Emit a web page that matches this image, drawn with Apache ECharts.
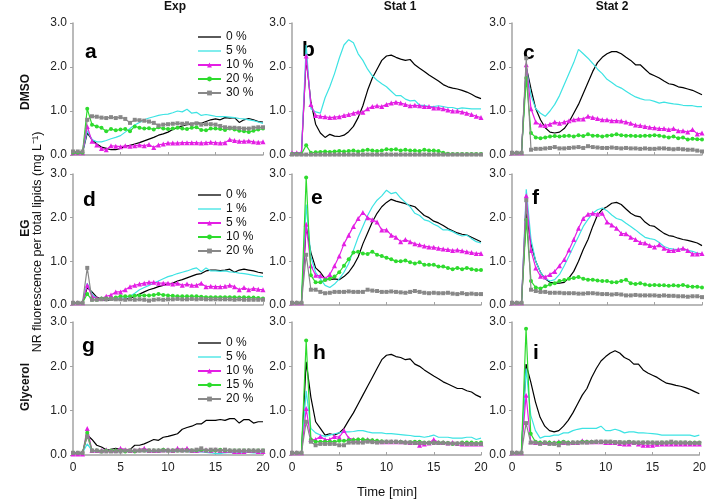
<!DOCTYPE html>
<html><head><meta charset="utf-8">
<script src="https://cdn.jsdelivr.net/npm/echarts@6/dist/echarts.min.js"></script>
<style>html,body{margin:0;padding:0;background:#fff}#c{width:709px;height:502px}</style>
</head><body><div id="c"></div><script>
const times = [0,0.5,1,1.5,2,2.5,3,3.5,4,4.5,5,5.5,6,6.5,7,7.5,8,8.5,9,9.5,10,10.5,11,11.5,12,12.5,13,13.5,14,14.5,15,15.5,16,16.5,17,17.5,18,18.5,19,19.5,20];
const xTicks = [0,5,10,15,20];
const yTicks = ['0.0','1.0','2.0','3.0'];
const colTitles = ['Exp','Stat 1','Stat 2'];
const rowTitles = ['DMSO','EG','Glycerol'];
const yTitle = 'NR fluorescence per total lipids (mg L\u207B\u00B9)';
const xTitle = 'Time [min]';
const dmsoLabels = ['0 %','5 %','10 %','20 %','30 %'];
const egLabels = ['0 %','1 %','5 %','10 %','20 %'];
const glyLabels = ['0 %','5 %','10 %','15 %','20 %'];

// Panel a (DMSO, Exp)
const a0 = [0.05,0.05,0.05,0.5,0.35,0.25,0.18,0.15,0.12,0.12,0.15,0.2,0.22,0.25,0.28,0.32,0.36,0.4,0.45,0.48,0.52,0.58,0.62,0.66,0.69,0.71,0.73,0.72,0.76,0.8,0.82,0.8,0.85,0.84,0.85,0.74,0.8,0.83,0.8,0.76,0.75];
const a5 = [0.05,0.05,0.05,0.55,0.35,0.3,0.3,0.33,0.37,0.4,0.44,0.52,0.6,0.68,0.74,0.8,0.84,0.87,0.9,0.92,0.93,0.96,1.0,0.98,1.04,0.95,0.97,0.9,0.92,0.9,0.88,0.87,0.87,0.86,0.85,0.83,0.82,0.8,0.78,0.75,0.72];
const a10 = [0.05,0.05,0.05,0.65,0.31,0.23,0.15,0.12,0.21,0.2,0.19,0.21,0.2,0.21,0.23,0.21,0.24,0.17,0.23,0.25,0.27,0.27,0.27,0.28,0.28,0.28,0.28,0.27,0.28,0.29,0.28,0.27,0.28,0.35,0.33,0.31,0.31,0.32,0.3,0.29,0.3];
const a20 = [0.05,0.05,0.05,1.05,0.69,0.65,0.62,0.54,0.59,0.56,0.58,0.59,0.54,0.65,0.62,0.6,0.61,0.58,0.63,0.6,0.59,0.6,0.62,0.6,0.59,0.62,0.63,0.57,0.56,0.6,0.6,0.59,0.57,0.6,0.58,0.55,0.54,0.52,0.55,0.58,0.6];
const a30 = [0.08,0.08,0.08,0.8,0.88,0.87,0.85,0.84,0.86,0.84,0.86,0.82,0.73,0.8,0.79,0.78,0.76,0.73,0.67,0.69,0.7,0.71,0.72,0.71,0.72,0.7,0.72,0.69,0.7,0.7,0.69,0.66,0.63,0.62,0.62,0.61,0.6,0.6,0.62,0.63,0.63];
// Panel b (DMSO, Stat 1)
const b0 = [0.05,0.05,0.05,2.2,1.2,0.7,0.5,0.4,0.47,0.43,0.42,0.45,0.53,0.65,0.85,1.12,1.47,1.75,1.95,2.15,2.25,2.27,2.22,2.18,2.15,2.17,2.05,1.97,1.9,1.82,1.75,1.68,1.6,1.55,1.52,1.5,1.47,1.43,1.38,1.32,1.28];
const b5 = [0.05,0.05,0.05,2.5,1.05,0.98,0.95,1.3,1.55,1.85,2.2,2.5,2.62,2.55,2.3,2.15,1.95,1.8,1.7,1.62,1.55,1.45,1.35,1.35,1.27,1.23,1.24,1.13,1.13,1.1,1.1,1.12,1.1,1.08,1.08,1.05,1.07,1.06,1.05,1.05,1.05];
const b10 = [0.05,0.05,0.05,2.25,1.15,0.9,0.88,0.87,0.85,0.86,0.87,0.9,0.92,0.95,0.98,0.97,1.05,1.1,1.12,1.1,1.15,1.18,1.2,1.18,1.15,1.12,1.13,1.12,1.1,1.1,1.07,1.07,1.05,1.02,1.0,1.0,0.98,0.95,0.92,0.88,0.85];
const b20 = [0.02,0.02,0.02,0.22,0.05,0.06,0.07,0.08,0.07,0.08,0.09,0.08,0.09,0.1,0.08,0.1,0.12,0.1,0.09,0.1,0.13,0.12,0.13,0.1,0.12,0.1,0.1,0.09,0.12,0.1,0.1,0.09,0.05,0.03,0.02,0.02,0.02,0.02,0.02,0.02,0.02];
const b30 = [0.01,0.01,0.01,0.01,0.01,0.01,0.01,0.01,0.01,0.01,0.01,0.01,0.01,0.01,0.01,0.01,0.01,0.01,0.01,0.01,0.01,0.01,0.01,0.01,0.01,0.01,0.01,0.01,0.01,0.01,0.01,0.01,0.01,0.01,0.01,0.01,0.01,0.01,0.01,0.01,0.01];
// Panel c (DMSO, Stat 2)
const c0 = [0.05,0.05,0.05,2.0,1.5,1.05,0.8,0.62,0.52,0.5,0.52,0.6,0.75,0.95,1.15,1.4,1.65,1.9,2.1,2.22,2.3,2.35,2.35,2.3,2.22,2.15,2.05,2.05,1.95,1.85,1.8,1.75,1.68,1.62,1.6,1.55,1.53,1.5,1.47,1.42,1.37];
const c5 = [0.05,0.05,0.05,2.0,1.35,1.05,0.95,0.88,1.0,1.15,1.35,1.6,1.85,2.1,2.4,2.3,2.2,2.08,1.95,1.85,1.72,1.65,1.57,1.52,1.45,1.38,1.32,1.28,1.25,1.25,1.22,1.18,1.2,1.18,1.16,1.15,1.13,1.12,1.12,1.1,1.1];
const c10 = [0.05,0.05,0.05,2.05,1.05,0.75,0.68,0.67,0.7,0.75,0.72,0.75,0.78,0.8,0.82,0.82,0.88,0.85,0.83,0.8,0.8,0.78,0.78,0.77,0.75,0.72,0.68,0.67,0.65,0.63,0.62,0.6,0.6,0.58,0.6,0.55,0.55,0.52,0.58,0.48,0.5];
const c20 = [0.05,0.05,0.05,1.75,0.5,0.4,0.38,0.4,0.42,0.43,0.42,0.43,0.44,0.42,0.45,0.43,0.47,0.44,0.44,0.42,0.44,0.45,0.47,0.45,0.44,0.44,0.43,0.43,0.44,0.44,0.45,0.44,0.42,0.4,0.42,0.38,0.4,0.35,0.37,0.36,0.35];
const c30 = [0.05,0.05,0.05,2.2,0.12,0.14,0.14,0.15,0.16,0.18,0.15,0.15,0.16,0.17,0.18,0.16,0.2,0.18,0.17,0.16,0.16,0.17,0.16,0.15,0.16,0.15,0.15,0.14,0.15,0.14,0.14,0.15,0.15,0.14,0.13,0.14,0.13,0.12,0.12,0.1,0.08];
// Panel d (EG, Exp)
const d0 = [0.05,0.05,0.05,0.4,0.3,0.18,0.13,0.1,0.12,0.12,0.12,0.13,0.15,0.2,0.25,0.3,0.35,0.38,0.42,0.45,0.48,0.5,0.55,0.58,0.62,0.66,0.7,0.72,0.78,0.8,0.8,0.79,0.8,0.82,0.75,0.8,0.82,0.8,0.78,0.75,0.73];
const d1 = [0.05,0.05,0.05,0.5,0.25,0.15,0.12,0.12,0.13,0.14,0.15,0.17,0.2,0.27,0.35,0.4,0.45,0.5,0.55,0.6,0.65,0.68,0.72,0.75,0.78,0.82,0.85,0.76,0.85,0.78,0.78,0.77,0.78,0.76,0.75,0.73,0.72,0.7,0.68,0.66,0.65];
const d5 = [0.05,0.05,0.05,0.45,0.2,0.15,0.15,0.2,0.23,0.3,0.3,0.35,0.42,0.45,0.48,0.5,0.52,0.52,0.5,0.5,0.5,0.48,0.5,0.45,0.48,0.45,0.45,0.5,0.42,0.43,0.42,0.42,0.43,0.45,0.42,0.35,0.4,0.35,0.38,0.36,0.35];
const d10 = [0.05,0.05,0.05,0.25,0.12,0.12,0.15,0.15,0.15,0.17,0.2,0.2,0.2,0.21,0.22,0.22,0.22,0.23,0.25,0.23,0.22,0.21,0.2,0.2,0.2,0.2,0.2,0.19,0.18,0.18,0.18,0.18,0.18,0.18,0.18,0.17,0.18,0.17,0.17,0.16,0.15];
const d20 = [0.05,0.05,0.05,0.85,0.12,0.12,0.13,0.13,0.14,0.13,0.13,0.12,0.13,0.12,0.13,0.12,0.1,0.12,0.13,0.12,0.13,0.13,0.14,0.13,0.13,0.14,0.13,0.14,0.13,0.13,0.13,0.13,0.13,0.13,0.12,0.13,0.12,0.12,0.12,0.12,0.12];
// Panel e (EG, Stat 1)
const e0 = [0.05,0.05,0.05,1.8,1.2,0.85,0.75,0.6,0.58,0.6,0.58,0.65,0.75,0.9,1.1,1.4,1.65,1.9,2.1,2.25,2.35,2.42,2.38,2.35,2.32,2.28,2.25,2.15,2.05,2.0,1.92,1.88,1.82,1.75,1.7,1.65,1.62,1.6,1.55,1.5,1.45];
const e1 = [0.05,0.05,0.05,2.3,1.1,0.75,0.6,0.45,0.4,0.48,0.6,0.75,0.95,1.25,1.55,1.8,2.05,2.25,2.4,2.5,2.63,2.55,2.58,2.45,2.35,2.25,2.1,2.05,1.95,1.92,1.85,1.8,1.72,1.72,1.68,1.62,1.58,1.6,1.52,1.45,1.42];
const e5 = [0.05,0.05,0.05,1.85,0.9,0.68,0.67,0.6,0.7,0.9,1.12,1.4,1.6,1.8,1.98,2.12,2.0,1.95,1.9,1.72,1.72,1.6,1.55,1.45,1.5,1.45,1.4,1.38,1.35,1.33,1.32,1.3,1.28,1.27,1.25,1.26,1.24,1.22,1.2,1.18,1.18];
const e10 = [0.05,0.05,0.05,2.92,0.68,0.52,0.52,0.57,0.6,0.65,0.75,0.9,1.05,1.2,1.22,1.18,1.17,1.22,1.15,1.12,1.08,1.05,1.0,1.0,1.02,0.98,0.95,0.98,0.92,0.92,0.92,0.88,0.88,0.85,0.82,0.85,0.82,0.85,0.82,0.8,0.8];
const e20 = [0.05,0.05,0.05,1.15,0.35,0.35,0.3,0.27,0.28,0.3,0.3,0.3,0.31,0.3,0.3,0.3,0.35,0.33,0.32,0.3,0.3,0.31,0.3,0.29,0.28,0.3,0.32,0.3,0.28,0.27,0.28,0.27,0.27,0.28,0.26,0.25,0.27,0.25,0.26,0.25,0.25];
// Panel f (EG, Stat 2)
const f0 = [0.05,0.05,0.05,2.1,1.4,1.0,0.75,0.6,0.52,0.5,0.5,0.52,0.62,0.77,1.0,1.27,1.5,1.8,2.06,2.19,2.25,2.33,2.35,2.3,2.2,2.1,2.04,2.02,1.9,1.82,1.8,1.72,1.64,1.59,1.57,1.53,1.5,1.48,1.45,1.42,1.36];
const f1 = [0.05,0.05,0.05,2.65,1.5,1.0,0.75,0.6,0.55,0.58,0.7,0.9,1.12,1.35,1.57,1.8,1.96,2.1,2.18,2.22,2.16,2.06,1.98,1.95,1.87,1.8,1.72,1.63,1.55,1.52,1.5,1.43,1.34,1.3,1.28,1.27,1.28,1.25,1.23,1.19,1.17];
const f5 = [0.05,0.05,0.05,2.5,1.25,0.85,0.66,0.64,0.7,0.77,0.9,1.04,1.26,1.5,1.76,1.98,2.08,2.1,2.08,2.1,1.9,1.83,1.76,1.64,1.63,1.55,1.5,1.43,1.42,1.36,1.33,1.38,1.3,1.25,1.25,1.27,1.3,1.25,1.17,1.17,1.18];
const f10 = [0.05,0.05,0.05,1.95,0.55,0.4,0.38,0.43,0.47,0.5,0.55,0.57,0.6,0.62,0.64,0.6,0.58,0.58,0.56,0.55,0.55,0.52,0.52,0.55,0.58,0.5,0.48,0.5,0.47,0.45,0.46,0.45,0.45,0.44,0.45,0.44,0.46,0.43,0.42,0.42,0.4];
const f20 = [0.05,0.05,0.05,2.4,0.35,0.32,0.3,0.3,0.28,0.28,0.28,0.27,0.27,0.27,0.26,0.26,0.27,0.27,0.26,0.25,0.25,0.24,0.25,0.24,0.22,0.22,0.23,0.22,0.22,0.22,0.22,0.21,0.22,0.21,0.21,0.2,0.2,0.19,0.2,0.2,0.18];
// Panel g (Glycerol, Exp)
const g0 = [0.05,0.05,0.05,0.45,0.35,0.22,0.18,0.12,0.13,0.15,0.12,0.1,0.12,0.22,0.22,0.25,0.3,0.35,0.33,0.4,0.42,0.45,0.48,0.58,0.62,0.65,0.7,0.7,0.78,0.78,0.78,0.8,0.78,0.82,0.82,0.72,0.8,0.8,0.72,0.75,0.75];
const g5 = [0.05,0.05,0.05,0.25,0.1,0.08,0.08,0.08,0.08,0.07,0.08,0.08,0.08,0.08,0.1,0.08,0.08,0.08,0.08,0.08,0.08,0.08,0.08,0.08,0.08,0.07,0.07,0.07,0.06,0.05,0.03,0.03,0.05,0.06,0.05,0.05,0.06,0.06,0.05,0.05,0.05];
const g10 = [0.02,0.02,0.02,0.6,0.1,0.1,0.1,0.12,0.1,0.1,0.15,0.12,0.1,0.1,0.12,0.15,0.1,0.1,0.1,0.12,0.12,0.1,0.15,0.12,0.15,0.1,0.1,0.12,0.12,0.1,0.12,0.1,0.1,0.1,0.08,0.08,0.08,0.1,0.1,0.08,0.08];
const g15 = [0.05,0.05,0.05,0.5,0.1,0.1,0.08,0.1,0.1,0.1,0.1,0.08,0.1,0.08,0.1,0.1,0.1,0.1,0.1,0.12,0.1,0.1,0.1,0.1,0.1,0.1,0.1,0.12,0.1,0.1,0.1,0.12,0.1,0.1,0.1,0.1,0.1,0.1,0.1,0.1,0.1];
const g20 = [0.05,0.05,0.05,0.42,0.1,0.1,0.08,0.08,0.08,0.08,0.08,0.1,0.1,0.1,0.1,0.1,0.1,0.1,0.1,0.1,0.1,0.1,0.1,0.1,0.1,0.1,0.12,0.15,0.1,0.12,0.12,0.1,0.12,0.1,0.1,0.1,0.1,0.1,0.1,0.1,0.1];
// Panel h (Glycerol, Stat 1)
const h0 = [0.05,0.05,0.05,2.1,1.3,0.75,0.6,0.45,0.48,0.45,0.5,0.6,0.78,0.95,1.15,1.35,1.55,1.75,1.95,2.15,2.25,2.27,2.22,2.2,2.15,2.17,2.05,2.0,1.92,1.85,1.78,1.72,1.65,1.6,1.55,1.5,1.5,1.45,1.42,1.35,1.3];
const h5 = [0.05,0.05,0.05,1.45,0.6,0.5,0.45,0.42,0.45,0.48,0.5,0.52,0.52,0.53,0.55,0.55,0.52,0.5,0.5,0.5,0.48,0.48,0.47,0.46,0.45,0.44,0.42,0.42,0.4,0.42,0.45,0.4,0.4,0.4,0.38,0.38,0.38,0.4,0.4,0.35,0.38];
const h10 = [0.05,0.05,0.05,1.05,0.35,0.35,0.42,0.35,0.35,0.42,0.4,0.55,0.38,0.35,0.35,0.35,0.35,0.33,0.32,0.3,0.3,0.3,0.3,0.3,0.3,0.28,0.28,0.22,0.25,0.27,0.35,0.28,0.28,0.27,0.28,0.26,0.25,0.25,0.25,0.25,0.25];
const h15 = [0.05,0.05,0.05,2.58,0.35,0.3,0.3,0.3,0.3,0.3,0.32,0.32,0.33,0.34,0.35,0.35,0.33,0.33,0.32,0.31,0.3,0.3,0.3,0.3,0.28,0.29,0.3,0.3,0.28,0.28,0.28,0.28,0.28,0.27,0.25,0.26,0.28,0.28,0.28,0.27,0.28];
const h20 = [0.05,0.05,0.05,0.75,0.3,0.22,0.25,0.25,0.25,0.25,0.22,0.22,0.28,0.28,0.28,0.28,0.3,0.29,0.28,0.29,0.3,0.3,0.3,0.29,0.28,0.28,0.27,0.27,0.27,0.27,0.27,0.27,0.27,0.26,0.26,0.26,0.26,0.25,0.25,0.25,0.25];
// Panel i (Glycerol, Stat 2)
const i0 = [0.05,0.05,0.05,2.05,1.65,1.2,0.85,0.65,0.55,0.52,0.55,0.65,0.78,0.95,1.15,1.35,1.5,1.75,1.95,2.12,2.22,2.3,2.35,2.3,2.2,2.15,2.05,2.05,1.92,1.85,1.8,1.75,1.68,1.62,1.6,1.57,1.55,1.52,1.48,1.43,1.38];
const i5 = [0.05,0.05,0.05,1.95,0.9,0.55,0.38,0.42,0.42,0.45,0.45,0.5,0.5,0.55,0.58,0.6,0.6,0.6,0.6,0.65,0.55,0.55,0.58,0.55,0.5,0.52,0.52,0.5,0.5,0.49,0.48,0.47,0.45,0.45,0.45,0.45,0.45,0.45,0.45,0.42,0.45];
const i10 = [0.05,0.05,0.05,1.35,0.3,0.28,0.28,0.28,0.28,0.28,0.3,0.28,0.28,0.28,0.28,0.32,0.3,0.3,0.3,0.3,0.28,0.28,0.28,0.26,0.25,0.25,0.28,0.25,0.22,0.22,0.22,0.24,0.25,0.25,0.25,0.25,0.25,0.25,0.25,0.25,0.25];
const i15 = [0.05,0.05,0.05,2.85,0.48,0.3,0.28,0.28,0.28,0.27,0.28,0.3,0.28,0.28,0.28,0.3,0.3,0.3,0.3,0.3,0.3,0.3,0.28,0.28,0.28,0.3,0.28,0.28,0.28,0.28,0.28,0.27,0.28,0.28,0.28,0.28,0.28,0.28,0.28,0.28,0.28];
const i20 = [0.05,0.05,0.05,0.72,0.28,0.28,0.25,0.28,0.25,0.25,0.22,0.28,0.26,0.28,0.28,0.28,0.28,0.29,0.3,0.3,0.3,0.3,0.29,0.29,0.28,0.29,0.28,0.28,0.28,0.28,0.28,0.28,0.28,0.28,0.3,0.28,0.28,0.28,0.27,0.27,0.27];

const panels = [
  {letter:'a', row:0, col:0, labels:dmsoLabels, vals:[a0,a5,a10,a20,a30]},
  {letter:'b', row:0, col:1, labels:dmsoLabels, vals:[b0,b5,b10,b20,b30]},
  {letter:'c', row:0, col:2, labels:dmsoLabels, vals:[c0,c5,c10,c20,c30]},
  {letter:'d', row:1, col:0, labels:egLabels, vals:[d0,d1,d5,d10,d20]},
  {letter:'e', row:1, col:1, labels:egLabels, vals:[e0,e1,e5,e10,e20]},
  {letter:'f', row:1, col:2, labels:egLabels, vals:[f0,f1,f5,f10,f20]},
  {letter:'g', row:2, col:0, labels:glyLabels, vals:[g0,g5,g10,g15,g20]},
  {letter:'h', row:2, col:1, labels:glyLabels, vals:[h0,h5,h10,h15,h20]},
  {letter:'i', row:2, col:2, labels:glyLabels, vals:[i0,i5,i10,i15,i20]}
];

const FONT = "'Liberation Sans', Arial, sans-serif";
const colors = ['#000000','#3DE3E3','#E41EE4','#2EDB2E','#888888'];
const symbols = ['none','none','triangle','circle','rect'];
const symbolSizes = [0,0,5,4,4];
const LINE_ICON = 'path://M0,0L23,0L23,1.3L0,1.3Z';
const axisColor = '#a3a3a3';
const gridLefts = [73, 292, 512];
const gridWidths = [190, 189, 190];
const gridTops = [23, 174, 322];
const gridHeights = [132, 131, 133];
const letterPos = {a:[85,42],b:[302,40],c:[523,43],d:[83,190],e:[311,188],f:[532,188],g:[82,336],h:[313,343],i:[533,343]};
const legendTops = [26, 184, 332];

const grid=[], xAxis=[], yAxis=[], series=[], legend=[], graphic=[];
panels.forEach((p,i)=>{
  grid.push({left:gridLefts[p.col], top:gridTops[p.row], width:gridWidths[p.col], height:gridHeights[p.row]});
  xAxis.push({type:'value', gridIndex:i, min:xTicks[0], max:xTicks[xTicks.length-1], interval:5,
    axisLine:{show:true, onZero:false, lineStyle:{color:axisColor, width:1.5}},
    axisTick:{show:true, inside:true, length:3, lineStyle:{color:axisColor}},
    axisLabel:{show:p.row===2, fontSize:12, color:'#222', fontFamily:FONT, margin:7},
    splitLine:{show:false}});
  yAxis.push({type:'value', gridIndex:i, min:0, max:3, interval:1,
    axisLine:{show:true, lineStyle:{color:axisColor, width:1.5}},
    axisTick:{show:true, inside:false, length:3, lineStyle:{color:axisColor}},
    axisLabel:{fontSize:12, color:'#222', fontFamily:FONT, margin:6, formatter:v=>yTicks[Math.round(v)]},
    splitLine:{show:false}});
  p.vals.forEach((vals,k)=>{
    series.push({type:'line', name:p.letter+'|'+p.labels[k], xAxisIndex:i, yAxisIndex:i,
      data:times.map((t,j)=>[t, vals[j]]),
      symbol:symbols[k], symbolSize:symbolSizes[k], showSymbol:k>=2,
      lineStyle:{color:colors[k], width:1.2}, itemStyle:{color:colors[k]},
      emphasis:{disabled:true}, z:2+k, animation:false});
  });
  if (p.col===0) {
    legend.push({orient:'vertical', left:192, top:legendTops[p.row], itemWidth:23, itemHeight:6, itemGap:2,
      symbolKeepAspect:true,
      data:p.labels.map((l,k)=> k<2 ? {name:p.letter+'|'+l, icon:LINE_ICON} : {name:p.letter+'|'+l}),
      formatter:n=>n.split('|')[1],
      textStyle:{fontSize:12, color:'#111', fontFamily:FONT, lineHeight:12}, selectedMode:false});
  }
  const lp = letterPos[p.letter];
  graphic.push({type:'text', x:lp[0], y:lp[1], style:{text:p.letter, font:"bold 21px "+FONT, fill:'#000', textBaseline:'alphabetic'}});
});
const colCenters = [175, 400, 612];
colTitles.forEach((t,c)=>graphic.push({type:'text', x:colCenters[c], y:7, style:{text:t, font:"bold 12px "+FONT, fill:'#111', textAlign:'center', textVerticalAlign:'middle'}}));
const rowCenters = [92, 228, 387];
rowTitles.forEach((t,r)=>graphic.push({type:'text', x:26, y:rowCenters[r], rotation:Math.PI/2, style:{text:t, font:"bold 12px "+FONT, fill:'#111', textAlign:'center', textVerticalAlign:'middle'}}));
graphic.push({type:'text', x:38, y:242, rotation:Math.PI/2, style:{text:yTitle, font:"12.5px "+FONT, fill:'#111', textAlign:'center', textVerticalAlign:'middle'}});
graphic.push({type:'text', x:387, y:492, style:{text:xTitle, font:"13px "+FONT, fill:'#111', textAlign:'center', textVerticalAlign:'middle'}});

const chart = echarts.init(document.getElementById('c'), null, {renderer:'canvas'});
chart.setOption({animation:false, backgroundColor:'#fff', grid, xAxis, yAxis, series, legend, graphic});
</script></body></html>
